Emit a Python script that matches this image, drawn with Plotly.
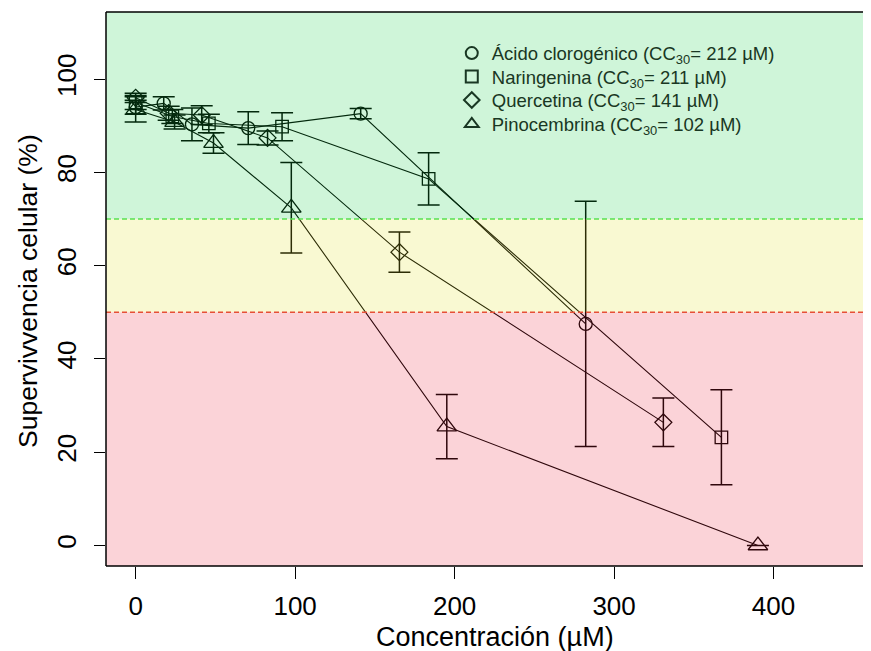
import plotly.graph_objects as go

# ---- data ----
conc_chlorogenic = [0, 17.6, 35.3, 70.6, 141.1, 282.2]
surv_chlorogenic = [94.0, 94.8, 90.3, 89.5, 92.6, 47.5]
sd_chlorogenic = [1.5, 1.4, 3.5, 3.5, 1.1, 26.3]

conc_naringenin = [0, 23.0, 45.9, 91.8, 183.7, 367.3]
surv_naringenin = [95.0, 92.0, 90.5, 89.8, 78.6, 23.2]
sd_naringenin = [1.5, 1.5, 2.0, 3.0, 5.6, 10.2]

conc_quercetin = [0, 20.7, 41.4, 82.7, 165.4, 330.9]
surv_quercetin = [96.0, 92.7, 92.3, 87.4, 62.9, 26.4]
sd_quercetin = [1.0, 1.5, 2.0, 1.5, 4.3, 5.2]

conc_pinocembrin = [0, 24.4, 48.8, 97.6, 195.1, 390.2]
surv_pinocembrin = [93.5, 90.8, 86.3, 72.4, 25.5, 0.0]
sd_pinocembrin = [2.7, 1.5, 2.2, 9.7, 6.9, None]

series_names = [
    "Ácido clorogénico (CC<sub>30</sub>= 212 µM)",
    "Naringenina (CC<sub>30</sub>= 211 µM)",
    "Quercetina (CC<sub>30</sub>= 141 µM)",
    "Pinocembrina (CC<sub>30</sub>= 102 µM)",
]
x_ticks = [0, 100, 200, 300, 400]
y_ticks = [0, 20, 40, 60, 80, 100]
zone_limits = [50, 70]

FONT = "Liberation Sans, Arial, sans-serif"
TINT = "rgb(25,55,35)"

series = [
    (conc_chlorogenic, surv_chlorogenic, sd_chlorogenic, "circle-open", 13),
    (conc_naringenin, surv_naringenin, sd_naringenin, "square-open", 12.5),
    (conc_quercetin, surv_quercetin, sd_quercetin, "diamond-open", 13),
    (conc_pinocembrin, surv_pinocembrin, sd_pinocembrin, "triangle-up-open", 17),
]
legend_ids = ["legend", "legend2", "legend3", "legend4"]
legend_rows = [0.925, 0.8827, 0.8403, 0.797]

fig = go.Figure()
for (x, y, sd, sym, sz), name, lid in zip(series, series_names, legend_ids):
    fig.add_trace(go.Scatter(
        x=x, y=y, mode="lines+markers", showlegend=False,
        line=dict(color="black", width=1.1),
        marker=dict(symbol=sym, size=sz, color="black", line=dict(color="black", width=1.3)),
        error_y=dict(type="data", array=sd, visible=True, color="black", thickness=1.5, width=11),
    ))
    fig.add_trace(go.Scatter(
        x=[None], y=[None], mode="markers", name=name, showlegend=True, legend=lid,
        marker=dict(symbol=sym, size=12, color=TINT, line=dict(color=TINT, width=1.3)),
    ))

shapes = [
    dict(type="rect", xref="paper", x0=0, x1=1, yref="y", y0=zone_limits[1], y1=200,
         fillcolor="rgba(15,205,65,0.2)", line=dict(width=0), layer="above"),
    dict(type="rect", xref="paper", x0=0, x1=1, yref="y", y0=zone_limits[0], y1=zone_limits[1],
         fillcolor="rgba(225,225,30,0.2)", line=dict(width=0), layer="above"),
    dict(type="rect", xref="paper", x0=0, x1=1, yref="y", y0=-50, y1=zone_limits[0],
         fillcolor="rgba(235,35,60,0.2)", line=dict(width=0), layer="above"),
    dict(type="line", xref="paper", x0=0, x1=1, yref="y", y0=zone_limits[1], y1=zone_limits[1],
         line=dict(color="rgb(90,225,80)", width=1.5, dash="5px,3px"), layer="above"),
    dict(type="line", xref="paper", x0=0, x1=1, yref="y", y0=zone_limits[0], y1=zone_limits[0],
         line=dict(color="rgb(230,80,55)", width=1.5, dash="5px,3px"), layer="above"),
    # box (left, top, bottom)
    dict(type="line", xref="paper", x0=0, x1=0, yref="paper", y0=0, y1=1,
         line=dict(color="black", width=1.5), layer="above"),
    dict(type="line", xref="paper", x0=0, x1=1, yref="paper", y0=1, y1=1,
         line=dict(color="black", width=1.5), layer="above"),
    dict(type="line", xref="paper", x0=0, x1=1, yref="paper", y0=0, y1=0,
         line=dict(color="black", width=1.5), layer="above"),
]

legend_common = dict(x=0.452, xanchor="left", yanchor="middle",
                     bgcolor="rgba(0,0,0,0)", borderwidth=0,
                     font=dict(family=FONT, size=18.5, color=TINT),
                     itemsizing="constant")
legends = {lid: dict(legend_common, y=row) for lid, row in zip(legend_ids, legend_rows)}

fig.update_layout(
    width=871, height=651,
    margin=dict(l=98, r=8, t=4, b=93),
    paper_bgcolor="white", plot_bgcolor="white",
    font=dict(family=FONT, color="black"),
    shapes=shapes,
    showlegend=True,
    xaxis=dict(range=[-18.6, 461.1], tickvals=x_ticks, ticks="outside", ticklen=12,
               tickwidth=1.2, tickcolor="black", showgrid=False, zeroline=False,
               showline=False, tickfont=dict(size=26, family=FONT), ticklabelstandoff=5),
    yaxis=dict(range=[-4.4, 114.4], tickvals=y_ticks, ticks="outside", ticklen=11,
               tickwidth=1.2, tickcolor="black", showgrid=False, zeroline=False,
               showline=False, tickangle=-90, tickfont=dict(size=26, family=FONT),
               ticklabelstandoff=8),
    annotations=[
        dict(text="Concentración (µM)", xref="paper", yref="paper",
             x=(495 - 106) / 765, y=0, yanchor="middle", yshift=-71, showarrow=False,
             font=dict(size=27, family=FONT, color="black")),
        dict(text="Supervivvencia celular (%)", xref="paper", yref="paper", x=0, y=0.5,
             xanchor="center", yanchor="middle", xshift=-78, yshift=-2,
             textangle=-90, showarrow=False,
             font=dict(size=26.5, family=FONT, color="black")),
    ],
    **legends,
)

fig.write_html("out.html")
